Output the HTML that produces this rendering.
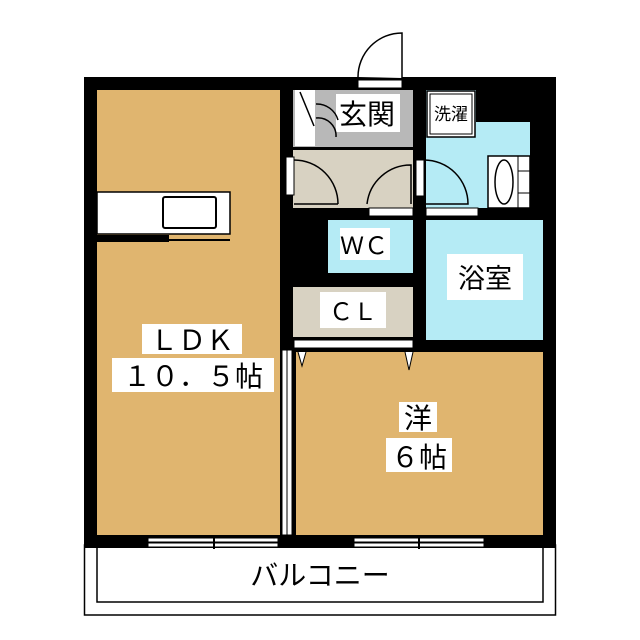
<!DOCTYPE html><html><head><meta charset="utf-8"><style>body{margin:0;background:#fff}svg{display:block}text{font-family:"Liberation Sans","Noto Sans CJK JP",sans-serif;fill:#000}</style></head><body>
<svg width="640" height="640" viewBox="0 0 640 640">
<rect x="84.5" y="545" width="471" height="70" fill="#fff" stroke="#000" stroke-width="1.5"/>
<rect x="97" y="545" width="446" height="57" fill="#fff" stroke="#000" stroke-width="1.5"/>
<rect x="84" y="77" width="472" height="471" fill="#000"/>
<rect x="97" y="90" width="183" height="445" fill="#e0b56f"/>
<rect x="296" y="352" width="247" height="183" fill="#e0b56f"/>
<rect x="293" y="90" width="120" height="57" fill="#b8b8b8"/>
<rect x="295" y="90" width="20" height="56" fill="#fff"/>
<rect x="336" y="94" width="64" height="38" fill="#fff"/>
<path d="M300 92 L314 126 M316 104 A 22 22 0 0 1 338 120 M316 118 A 18 18 0 0 1 336 137" fill="none" stroke="#000" stroke-width="1.5"/>
<rect x="293" y="150" width="120" height="58" fill="#d8d2c2"/>
<rect x="286" y="157" width="8" height="38" fill="#fff" stroke="#000"/>
<path d="M294 160 A 44 44 0 0 1 338 204 M294 204 L338 204" fill="none" stroke="#000" stroke-width="1.5"/>
<path d="M367 204 A 44 44 0 0 1 411 165 L411 204" fill="none" stroke="#000" stroke-width="1.5"/>
<rect x="369" y="208" width="44" height="8" fill="#fff" stroke="#000"/>
<path d="M426 90 H476 V122 H530 V208 H426 Z" fill="#b5ebf5"/>
<rect x="427" y="91" width="48" height="46" fill="#fff" stroke="#000" stroke-width="1.5"/>
<rect x="430" y="94" width="42" height="40" fill="none" stroke="#000" stroke-width="1"/>
<text x="451" y="120" font-size="17" text-anchor="middle">洗濯</text>
<rect x="488" y="156" width="42" height="52" fill="#fff" stroke="#000" stroke-width="1.5"/>
<ellipse cx="504" cy="182" rx="9" ry="22" fill="#fff" stroke="#000" stroke-width="1.5"/>
<line x1="518" y1="156" x2="518" y2="208" stroke="#000"/>
<line x1="518" y1="171" x2="530" y2="171" stroke="#000"/><line x1="518" y1="193" x2="530" y2="193" stroke="#000"/>
<rect x="416" y="160" width="8" height="36" fill="#fff" stroke="#000"/>
<path d="M424 160 A 44 44 0 0 1 468 204 L424 204" fill="none" stroke="#000" stroke-width="1.5"/>
<rect x="426" y="208" width="52" height="8" fill="#fff" stroke="#000"/>
<path d="M427 220 L431 238 L435 220" fill="#fff" stroke="#000"/>
<rect x="358" y="80" width="44" height="8" fill="#fff" stroke="#000"/>
<path d="M402 78 V33 A 44 44 0 0 0 358 77" fill="#fff" stroke="#000" stroke-width="1.5"/>
<rect x="328" y="220" width="85" height="53" fill="#b5ebf5"/>
<rect x="340" y="228" width="50" height="32" fill="#fff"/>
<text x="364" y="254" font-size="24" text-anchor="middle">ＷＣ</text>
<rect x="293" y="287" width="120" height="50" fill="#d8d2c2"/>
<rect x="320" y="292" width="66" height="36" fill="#fff"/>
<text x="353" y="320" font-size="24" text-anchor="middle">ＣＬ</text>
<rect x="294" y="340" width="119" height="8" fill="#fff" stroke="#000"/>
<rect x="426" y="220" width="117" height="120" fill="#b5ebf5"/>
<rect x="447" y="254" width="76" height="46" fill="#fff"/>
<text x="485" y="288" font-size="27" text-anchor="middle">浴室</text>
<text x="367" y="124" font-size="28" text-anchor="middle">玄関</text>
<rect x="97" y="192" width="133" height="42" fill="#fff" stroke="#000" stroke-width="1.5"/>
<rect x="163" y="197" width="53" height="31" rx="2" fill="#fff" stroke="#000" stroke-width="2"/>
<rect x="97" y="235" width="72" height="7" fill="#000"/>
<line x1="169" y1="240" x2="230" y2="240" stroke="#000" stroke-width="2"/>
<rect x="282" y="350" width="10" height="185" fill="#fff" stroke="#000"/>
<line x1="287" y1="350" x2="287" y2="535" stroke="#000"/>
<path d="M298 352 L302 366 L306 352 M405 352 L409 370 L413 352" fill="#fff" stroke="#000"/>
<g fill="#fff" stroke="#000" stroke-width="1"><rect x="148" y="538" width="130" height="4"/><rect x="148" y="543" width="130" height="4"/><rect x="354" y="538" width="130" height="4"/><rect x="354" y="543" width="130" height="4"/></g>
<line x1="214" y1="536" x2="214" y2="549" stroke="#000" stroke-width="2"/><line x1="419" y1="536" x2="419" y2="549" stroke="#000" stroke-width="2"/>
<rect x="142" y="324" width="100" height="30" fill="#fff"/>
<text x="192" y="350" font-size="28" text-anchor="middle">ＬＤＫ</text>
<rect x="112" y="358" width="162" height="34" fill="#fff"/>
<text x="193" y="386" font-size="28" text-anchor="middle">１０．５帖</text>
<rect x="399" y="402" width="38" height="30" fill="#fff"/>
<text x="418" y="428" font-size="28" text-anchor="middle">洋</text>
<rect x="386" y="438" width="66" height="34" fill="#fff"/>
<text x="419" y="467" font-size="28" text-anchor="middle">６帖</text>
<text x="320" y="585" font-size="28" text-anchor="middle">バルコニー</text>
</svg></body></html>
